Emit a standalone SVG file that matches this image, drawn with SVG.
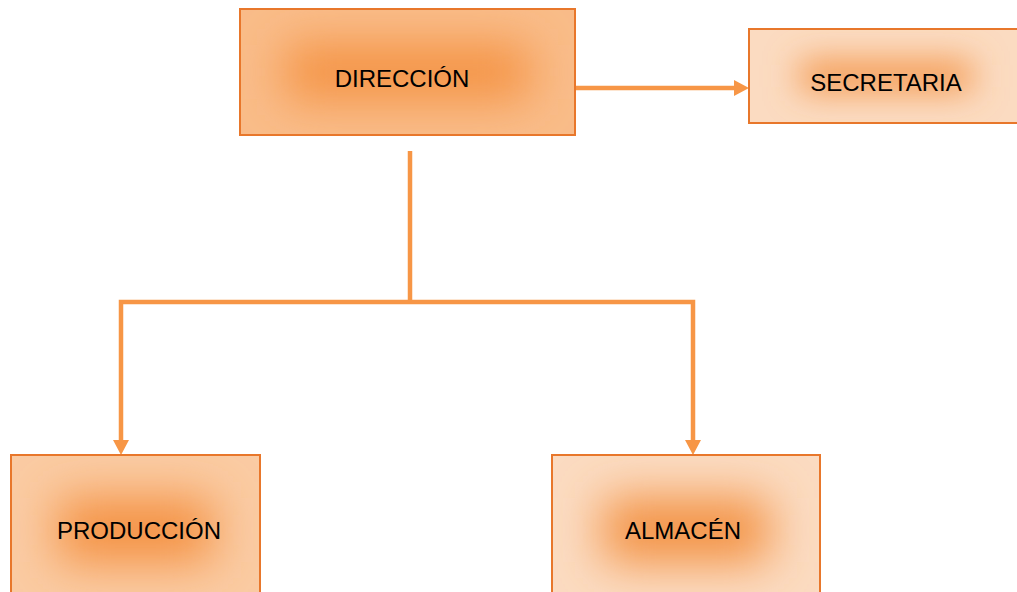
<svg xmlns="http://www.w3.org/2000/svg" width="1017" height="592" viewBox="0 0 1017 592">
<style>
.box{stroke:#E8772B;stroke-width:2}
.lbl{font-family:"Liberation Sans",Arial,sans-serif;font-size:24px;fill:#000;text-anchor:middle}
.con{fill:none;stroke:#F79646;stroke-width:4.5}
</style>
<defs>
<filter id="soft" x="-100%" y="-200%" width="300%" height="500%"><feGaussianBlur stdDeviation="24"/></filter>
<filter id="soft2" x="-100%" y="-200%" width="300%" height="500%"><feGaussianBlur stdDeviation="17"/></filter>
<marker id="ah" markerUnits="userSpaceOnUse" markerWidth="15" markerHeight="16" refX="0" refY="8" orient="auto"><path d="M0,0 L15,8 L0,16 Z" fill="#F79646"/></marker>
<clipPath id="cDir"><rect x="240" y="9" width="335" height="126"/></clipPath>
<clipPath id="cSec"><rect x="749" y="29" width="274" height="94"/></clipPath>
<clipPath id="cPro"><rect x="11" y="455" width="249" height="151"/></clipPath>
<clipPath id="cAlm"><rect x="552" y="455" width="268" height="151"/></clipPath>
</defs>
<g id="connectors">
<path class="con" d="M575,88 H734" marker-end="url(#ah)"/>
<path class="con" d="M410,151 V302"/>
<path class="con" d="M410,302 H121 V440" marker-end="url(#ah)"/>
<path class="con" d="M410,302 H693 V440" marker-end="url(#ah)"/>
</g>
<g id="direccion">
<rect x="240" y="9" width="335" height="126" fill="#F9BC89"/>
<g clip-path="url(#cDir)"><rect x="285" y="45" width="245" height="54" fill="#F4913F" filter="url(#soft)"/></g>
<rect class="box" x="240" y="9" width="335" height="126" fill="none"/>
<text class="lbl" x="402" y="87">DIRECCIÓN</text>
</g>
<g id="secretaria">
<rect x="749" y="29" width="274" height="94" fill="#FBDBC1"/>
<g clip-path="url(#cSec)"><rect x="800" y="62" width="172" height="28" fill="#F3903F" filter="url(#soft2)"/></g>
<rect class="box" x="749" y="29" width="274" height="94" fill="none"/>
<text class="lbl" x="886" y="91">SECRETARIA</text>
</g>
<g id="produccion">
<rect x="11" y="455" width="249" height="151" fill="#FACBA3"/>
<g clip-path="url(#cPro)"><rect x="58" y="498" width="155" height="64" fill="#F4903F" filter="url(#soft)"/></g>
<rect class="box" x="11" y="455" width="249" height="151" fill="none"/>
<text class="lbl" x="139" y="539">PRODUCCIÓN</text>
</g>
<g id="almacen">
<rect x="552" y="455" width="268" height="151" fill="#FBDBC1"/>
<g clip-path="url(#cAlm)"><rect x="603" y="498" width="166" height="64" fill="#F3903F" filter="url(#soft)"/></g>
<rect class="box" x="552" y="455" width="268" height="151" fill="none"/>
<text class="lbl" x="683" y="539">ALMACÉN</text>
</g>
</svg>
